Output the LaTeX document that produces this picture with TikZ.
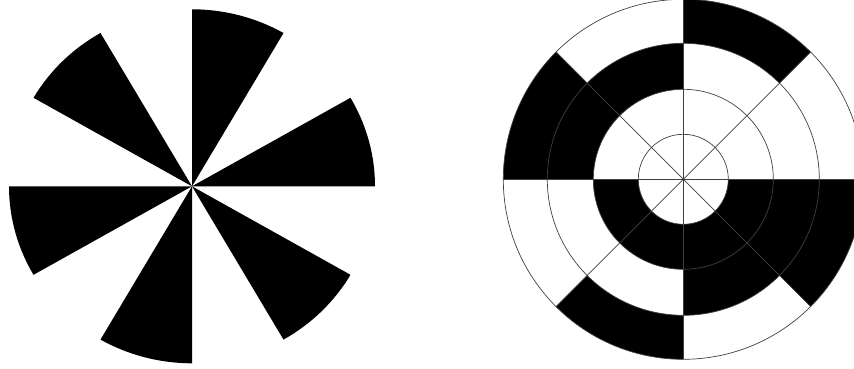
\documentclass[tikz,border=0pt]{standalone}
\begin{document}
\begin{tikzpicture}[
  wedge/.style={fill=black},
  cell/.style={fill=black},
  grid/.style={draw=black!75, line width=0.7pt}
]
\useasboundingbox (0pt,0pt) rectangle (854pt,368pt);
\clip (0pt,0pt) rectangle (854pt,368pt);
\coordinate (pc) at (192pt,181.7pt);
\coordinate (tc) at (683.3pt,188.7pt);
% pinwheel
\begin{scope}[shift={(pc)}]
\foreach \a in {0,60,120,180,240,300}{
  \fill[wedge] (0,0) -- (\a:183pt and 177pt)
    arc[start angle=\a, end angle=\a+30, x radius=183pt, y radius=177pt] -- cycle;
}
\end{scope}
% target
\begin{scope}[shift={(tc)}]
\foreach \a/\ri/\ro in {45/136/180, 90/90/136, 135/90/180, 180/45/90, 225/45/90, 225/136/180, 270/45/136, 315/45/180}{
  \fill[cell] (\a:\ro pt) arc[start angle=\a, end angle=\a+45, radius=\ro pt]
    -- (\a+45:\ri pt) arc[start angle=\a+45, end angle=\a, radius=\ri pt] -- cycle;
}
\foreach \r in {45,90,136,180}{
  \draw[grid] (0,0) circle[radius=\r pt];
}
\foreach \a in {0,45,90,135}{
  \draw[grid] (\a:180pt) -- (\a+180:180pt);
}
\end{scope}
\end{tikzpicture}
\end{document}
